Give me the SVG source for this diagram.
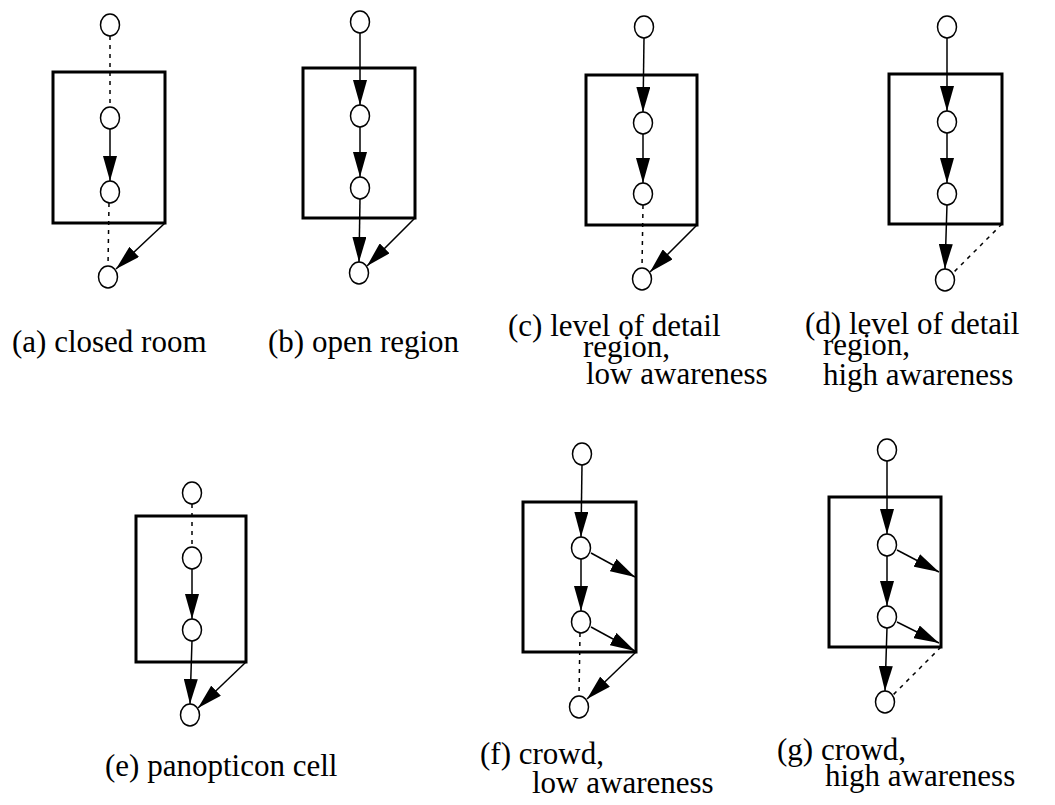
<svg xmlns="http://www.w3.org/2000/svg" width="1055" height="805" viewBox="0 0 1055 805">
<style>
.room{fill:none;stroke:#000;stroke-width:3}
.n{fill:#fff;stroke:#000;stroke-width:1.5}
.e{fill:none;stroke:#000;stroke-width:1.5;marker-end:url(#ah)}
.d{fill:none;stroke:#000;stroke-width:1.5;stroke-dasharray:4 5}
.t{font-family:'Liberation Serif','Times New Roman',Tinos,'DejaVu Serif',serif;font-size:31px;fill:#000}
</style>
<defs>
<marker id="ah" markerUnits="userSpaceOnUse" markerWidth="26" markerHeight="14" refX="25" refY="7" orient="auto">
<path d="M0,0 L25,7 L0,14 z" fill="#000"/>
</marker>
</defs>
<rect width="1055" height="805" fill="#fff"/>
<g id="rooms">
<rect class="room" x="53" y="72" width="112" height="151"/>
<rect class="room" x="303" y="68" width="112" height="150"/>
<rect class="room" x="586" y="75" width="111" height="150"/>
<rect class="room" x="889" y="74" width="113" height="150"/>
<rect class="room" x="136" y="516" width="110" height="146"/>
<rect class="room" x="523" y="502" width="113" height="150"/>
<rect class="room" x="829" y="497" width="112" height="150"/>
</g>
<g id="connectors">
<line class="d" x1="110" y1="36" x2="110" y2="107"/>
<line class="e" x1="110" y1="129" x2="110" y2="181"/>
<line class="d" x1="109" y1="203" x2="108" y2="266"/>
<line class="e" x1="165" y1="223" x2="116" y2="269"/>

<line class="e" x1="360" y1="33" x2="360" y2="105"/>
<line class="e" x1="360" y1="127" x2="360" y2="177"/>
<line class="e" x1="360" y1="199" x2="359" y2="262"/>
<line class="e" x1="415" y1="218" x2="367" y2="266"/>

<line class="e" x1="644" y1="38" x2="643" y2="112"/>
<line class="e" x1="643" y1="134" x2="643" y2="183"/>
<line class="d" x1="643" y1="205" x2="642" y2="268"/>
<line class="e" x1="697" y1="225" x2="650" y2="272"/>

<line class="e" x1="947" y1="38" x2="947" y2="111"/>
<line class="e" x1="947" y1="133" x2="947" y2="183"/>
<line class="e" x1="947" y1="205" x2="945" y2="269"/>
<line class="d" x1="1002" y1="224" x2="953" y2="273"/>

<line class="d" x1="192" y1="504" x2="192" y2="547"/>
<line class="e" x1="192" y1="569" x2="192" y2="619"/>
<line class="e" x1="192" y1="641" x2="190" y2="704"/>
<line class="e" x1="246" y1="662" x2="198" y2="708"/>

<line class="e" x1="582" y1="465" x2="581" y2="537"/>
<line class="e" x1="581" y1="559" x2="581" y2="611"/>
<line class="e" x1="591" y1="553" x2="635" y2="577"/>
<line class="e" x1="591" y1="627" x2="635" y2="651"/>
<line class="d" x1="580" y1="633" x2="579" y2="696"/>
<line class="e" x1="636" y1="652" x2="587" y2="699"/>

<line class="e" x1="887" y1="461" x2="887" y2="534"/>
<line class="e" x1="887" y1="556" x2="887" y2="606"/>
<line class="e" x1="897" y1="550" x2="939" y2="572"/>
<line class="e" x1="897" y1="622" x2="939" y2="643"/>
<line class="e" x1="887" y1="628" x2="885" y2="691"/>
<line class="d" x1="941" y1="647" x2="893" y2="695"/>
</g>
<g id="nodes-a">
<ellipse class="n" cx="110" cy="25" rx="9.5" ry="11"/>
<ellipse class="n" cx="110" cy="118" rx="9.5" ry="11"/>
<ellipse class="n" cx="110" cy="192" rx="9.5" ry="11"/>
<ellipse class="n" cx="108" cy="277" rx="9.5" ry="11"/>
</g>
<g id="nodes-b">
<ellipse class="n" cx="360" cy="22" rx="9.5" ry="11"/>
<ellipse class="n" cx="360" cy="116" rx="9.5" ry="11"/>
<ellipse class="n" cx="360" cy="188" rx="9.5" ry="11"/>
<ellipse class="n" cx="359" cy="273" rx="9.5" ry="11"/>
</g>
<g id="nodes-c">
<ellipse class="n" cx="644" cy="27" rx="9.5" ry="11"/>
<ellipse class="n" cx="643" cy="123" rx="9.5" ry="11"/>
<ellipse class="n" cx="643" cy="194" rx="9.5" ry="11"/>
<ellipse class="n" cx="642" cy="279" rx="9.5" ry="11"/>
</g>
<g id="nodes-d">
<ellipse class="n" cx="947" cy="27" rx="9.5" ry="11"/>
<ellipse class="n" cx="947" cy="122" rx="9.5" ry="11"/>
<ellipse class="n" cx="947" cy="194" rx="9.5" ry="11"/>
<ellipse class="n" cx="945" cy="280" rx="9.5" ry="11"/>
</g>
<g id="nodes-e">
<ellipse class="n" cx="192" cy="493" rx="9.5" ry="11"/>
<ellipse class="n" cx="192" cy="558" rx="9.5" ry="11"/>
<ellipse class="n" cx="192" cy="630" rx="9.5" ry="11"/>
<ellipse class="n" cx="190" cy="715" rx="9.5" ry="11"/>
</g>
<g id="nodes-f">
<ellipse class="n" cx="582" cy="454" rx="9.5" ry="11"/>
<ellipse class="n" cx="581" cy="548" rx="9.5" ry="11"/>
<ellipse class="n" cx="581" cy="622" rx="9.5" ry="11"/>
<ellipse class="n" cx="579" cy="707" rx="9.5" ry="11"/>
</g>
<g id="nodes-g">
<ellipse class="n" cx="887" cy="450" rx="9.5" ry="11"/>
<ellipse class="n" cx="887" cy="545" rx="9.5" ry="11"/>
<ellipse class="n" cx="887" cy="617" rx="9.5" ry="11"/>
<ellipse class="n" cx="885" cy="702" rx="9.5" ry="11"/>
</g>
<g id="labels">
<text class="t" x="12" y="352">(a) closed room</text>
<text class="t" x="268" y="352">(b) open region</text>
<text class="t" x="508" y="336">(c) level of detail</text>
<text class="t" x="583" y="357">region,</text>
<text class="t" x="586" y="384">low awareness</text>
<text class="t" x="805" y="334">(d) level of detail</text>
<text class="t" x="823" y="355">region,</text>
<text class="t" x="823" y="385">high awareness</text>
<text class="t" x="105" y="776">(e) panopticon cell</text>
<text class="t" x="480" y="764">(f) crowd,</text>
<text class="t" x="532" y="793">low awareness</text>
<text class="t" x="777" y="760">(g) crowd,</text>
<text class="t" x="825" y="786">high awareness</text>
</g>
</svg>
